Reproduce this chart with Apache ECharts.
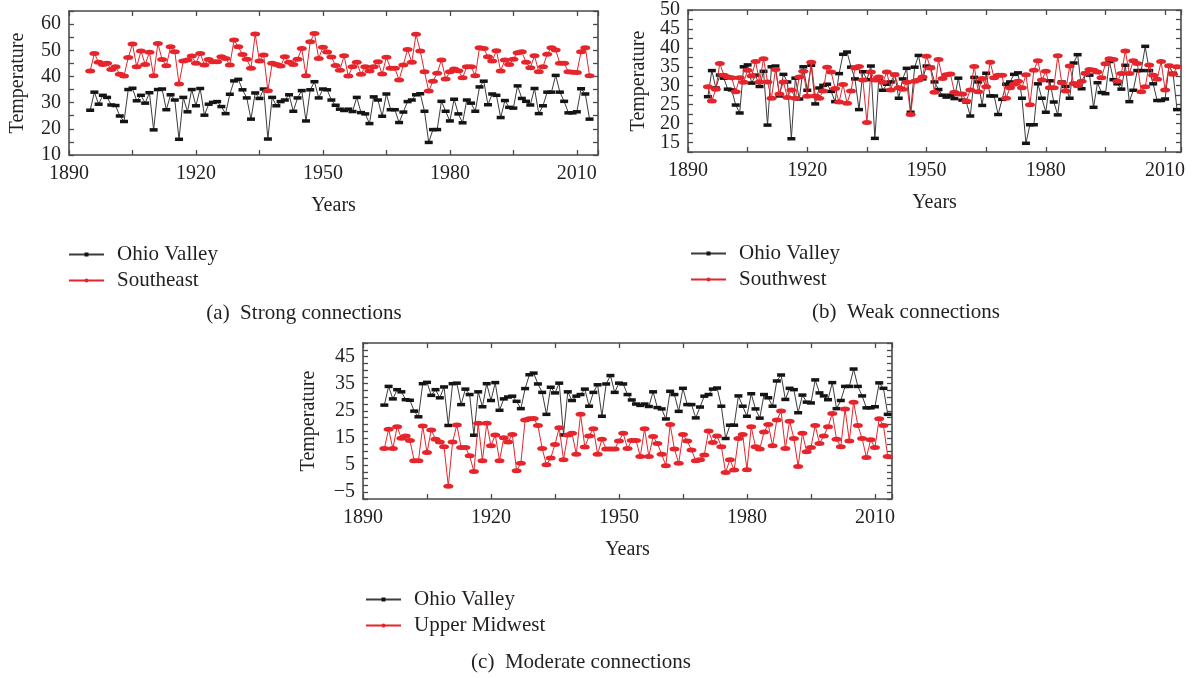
<!DOCTYPE html>
<html>
<head>
<meta charset="utf-8">
<script src="https://cdn.jsdelivr.net/npm/echarts@6/dist/echarts.min.js"></script>
<style>
  html, body { margin: 0; padding: 0; background: #ffffff; }
  #chart { width: 1194px; height: 678px; }
</style>
</head>
<body>
<div id="chart"></div>
<script>
// Winter mean temperature by climate region, 1895-2013
const firstYear = 1895;
const lastYear = 2013;

const ohioValley = [
  27.1, 34.0, 29.4, 32.8, 32.0, 29.1, 28.9, 24.9, 22.8, 35.0,
  35.5, 30.7, 32.8, 29.8, 33.8, 19.6, 35.0, 35.2, 27.3, 33.0,
  31.0, 16.0, 32.0, 26.5, 35.0, 28.8, 35.4, 25.2, 29.4, 30.1,
  30.4, 28.5, 25.8, 33.2, 38.3, 38.9, 34.9, 31.8, 23.7, 33.7,
  31.6, 35.2, 16.1, 32.0, 28.8, 30.4, 31.0, 33.0, 26.7, 31.8,
  34.6, 23.0, 34.9, 38.0, 31.8, 35.2, 34.9, 31.0, 29.0, 27.5,
  27.0, 27.5, 26.6, 32.0, 26.2, 25.7, 22.0, 32.2, 31.0, 24.8,
  33.3, 27.3, 27.3, 22.4, 26.4, 30.4, 31.0, 33.0, 33.4, 26.7,
  14.8, 19.7, 19.7, 30.5, 26.7, 23.0, 31.3, 25.7, 22.3, 31.0,
  29.8, 26.7, 36.0, 38.2, 29.2, 33.3, 32.8, 24.3, 30.8, 28.2,
  27.9, 36.4, 31.6, 30.5, 29.1, 35.4, 25.8, 28.8, 34.0, 34.0,
  40.4, 34.0, 30.5, 26.1, 26.1, 26.5, 35.3, 33.3, 23.7
];

const southeast = [
  42.1, 48.8, 45.4, 44.6, 45.0, 42.7, 43.7, 40.8, 40.2, 47.2,
  52.4, 43.7, 49.7, 44.6, 49.2, 40.3, 52.6, 46.5, 44.1, 51.3,
  49.4, 37.1, 45.9, 46.3, 47.8, 45.0, 48.8, 44.4, 46.5, 45.6,
  45.6, 47.5, 46.9, 44.4, 53.9, 51.3, 48.4, 46.6, 43.1, 56.2,
  45.9, 48.2, 34.5, 45.0, 44.6, 44.0, 47.5, 45.4, 44.6, 46.6,
  50.7, 40.3, 53.3, 56.4, 46.9, 51.2, 49.3, 47.4, 44.2, 42.4,
  47.9, 40.2, 43.7, 45.4, 40.8, 43.7, 42.1, 43.7, 45.6, 40.9,
  47.3, 43.1, 43.1, 38.6, 44.4, 50.3, 45.4, 56.1, 49.7, 41.8,
  34.4, 38.2, 41.2, 46.3, 39.0, 41.8, 42.8, 42.2, 39.5, 43.7,
  43.7, 40.3, 51.0, 50.7, 47.5, 45.9, 49.8, 42.1, 46.3, 44.6,
  46.6, 49.1, 49.4, 45.4, 43.3, 47.9, 41.8, 43.7, 48.5, 51.0,
  50.1, 45.0, 45.0, 41.8, 41.6, 41.5, 49.4, 51.0, 40.3
];

const southwest = [
  29.7, 26.0, 29.1, 35.9, 32.8, 32.3, 32.1, 28.4, 32.1, 30.9,
  34.1, 32.6, 36.4, 31.0, 37.1, 31.0, 26.7, 34.3, 27.8, 31.0,
  26.9, 28.9, 26.7, 32.3, 33.8, 27.2, 36.2, 27.3, 26.7, 28.6,
  34.9, 33.6, 29.3, 25.7, 30.3, 25.4, 28.6, 34.7, 35.1, 31.5,
  20.3, 33.6, 31.5, 32.3, 30.9, 33.6, 28.9, 32.9, 29.5, 29.1,
  30.9, 22.4, 31.2, 31.5, 32.3, 37.8, 34.7, 28.3, 36.9, 31.9,
  32.9, 33.1, 28.3, 27.8, 27.8, 26.0, 28.9, 35.1, 28.4, 31.9,
  29.7, 36.2, 32.1, 32.8, 32.8, 26.7, 29.5, 30.4, 31.2, 29.5,
  32.9, 25.0, 34.1, 36.6, 31.5, 33.8, 29.5, 29.5, 37.9, 30.8,
  28.6, 35.2, 30.6, 30.0, 31.2, 33.2, 34.3, 34.1, 33.6, 32.1,
  35.8, 37.1, 36.9, 31.2, 33.2, 39.2, 33.2, 36.6, 35.9, 28.4,
  29.7, 35.5, 32.8, 31.7, 36.4, 28.9, 35.3, 33.0, 35.0
];

const upperMidwest = [
  11.1, 18.2, 11.1, 19.1, 14.9, 15.7, 14.1, 6.6, 6.6, 19.4,
  9.6, 17.9, 14.5, 13.5, 11.8, -2.8, 13.5, 19.8, 11.5, 11.5,
  8.4, 2.6, 20.4, 6.6, 20.4, 12.1, 16.1, 6.6, 15.1, 13.5,
  16.3, 2.9, 5.7, 21.6, 22.1, 22.2, 19.6, 11.1, 5.1, 7.6,
  12.6, 18.8, 7.0, 16.1, 16.7, 9.0, 23.7, 11.7, 15.7, 18.4,
  9.0, 14.5, 10.9, 10.9, 10.9, 13.9, 16.7, 11.1, 14.1, 14.1,
  8.2, 18.4, 8.2, 15.5, 13.0, 9.0, 4.8, 20.0, 10.9, 5.7,
  16.3, 13.9, 10.6, 6.6, 7.0, 8.7, 17.6, 13.3, 15.7, 11.8,
  2.3, 7.0, 3.2, 14.8, 16.3, 3.3, 19.1, 11.8, 10.9, 17.2,
  20.0, 12.1, 21.6, 24.9, 11.1, 21.2, 14.8, 4.5, 16.7, 9.9,
  11.5, 19.6, 13.0, 15.7, 19.1, 24.0, 14.5, 11.8, 25.7, 13.9,
  28.2, 19.6, 14.8, 7.8, 14.3, 11.5, 22.1, 19.6, 8.2
];

const years = [];
for (let y = firstYear; y <= lastYear; y++) years.push(y);

const yearLabels = [1890, 1920, 1950, 1980, 2010];
const captions = ['(a)  Strong connections', '(b)  Weak connections', '(c)  Moderate connections'];

const FONT = '"Liberation Serif", "DejaVu Serif", serif';
const TEXT = '#231f20';
const AXIS = '#4a4a4a';
const BLACK_LINE = '#3c3c3c';
const BLACK_MARK = '#141414';
const RED = '#e6242b';

const pairs = vals => vals.map((v, i) => [years[i], v]);

const panels = [
  { grid: { left: 69, top: 11, width: 529, height: 144 }, xMax: 2015,
    yMin: 10, yMax: 65, yStep: 5, yLabel: v => (v % 10 === 0 ? String(v) : ''),
    yNameGap: 41,
    other: southeast, otherName: 'Southeast',
    legend: { left: 63, top: 239 }, caption: { x: 304, y: 313 } },
  { grid: { left: 688, top: 7, width: 493, height: 145 }, xMax: 2014,
    yMin: 12.5, yMax: 50, yStep: 2.5, yLabel: v => (v % 5 === 0 ? String(v) : ''),
    yNameGap: 39,
    other: southwest, otherName: 'Southwest',
    legend: { left: 685, top: 238 }, caption: { x: 906, y: 312 } },
  { grid: { left: 363, top: 343, width: 529, height: 156 }, xMax: 2014,
    yMin: -7.5, yMax: 50, yStep: 2.5,
    yLabel: v => ((((v + 5) % 10) + 10) % 10 === 0 ? (v < 0 ? '\u2212' + (-v) : String(v)) : ''),
    yNameGap: 44,
    other: upperMidwest, otherName: 'Upper Midwest',
    legend: { left: 360, top: 584 }, caption: { x: 581, y: 662 } }
];

const tickStyle = { fontFamily: FONT, fontSize: 20, color: TEXT };
const nameStyle = { fontFamily: FONT, fontSize: 20, color: TEXT };
const legendStyle = { fontFamily: FONT, fontSize: 21, color: TEXT };
const tick = { inside: true, length: 5, lineStyle: { color: AXIS, width: 1.3 } };
const line = { show: true, onZero: false, lineStyle: { color: AXIS, width: 1.6 } };

const grids = [], xAxes = [], yAxes = [], series = [], legends = [], graphics = [];

panels.forEach((p, k) => {
  grids.push(Object.assign({ containLabel: false }, p.grid));
  // bottom + mirrored top x axis
  xAxes.push({
    type: 'value', gridIndex: k, position: 'bottom', min: 1890, max: p.xMax, interval: 15,
    axisLine: line, axisTick: tick, splitLine: { show: false },
    axisLabel: Object.assign({ margin: 9, showMaxLabel: true,
      formatter: v => (yearLabels.indexOf(v) >= 0 ? String(v) : '') }, tickStyle),
    name: 'Years', nameLocation: 'middle', nameGap: 41, nameTextStyle: nameStyle
  });
  xAxes.push({
    type: 'value', gridIndex: k, position: 'top', min: 1890, max: p.xMax, interval: 15,
    axisLine: line, axisTick: tick, axisLabel: { show: false }, splitLine: { show: false }
  });
  // left + mirrored right y axis
  yAxes.push({
    type: 'value', gridIndex: k, position: 'left', min: p.yMin, max: p.yMax, interval: p.yStep,
    axisLine: line, axisTick: tick, splitLine: { show: false },
    axisLabel: Object.assign({ margin: 8, formatter: p.yLabel }, tickStyle),
    name: 'Temperature', nameLocation: 'middle', nameRotate: 90, nameGap: p.yNameGap,
    nameTextStyle: nameStyle
  });
  yAxes.push({
    type: 'value', gridIndex: k, position: 'right', min: p.yMin, max: p.yMax, interval: p.yStep,
    axisLine: line, axisTick: tick, axisLabel: { show: false }, splitLine: { show: false }
  });

  series.push({
    name: 'Ohio Valley', type: 'line', xAxisIndex: 2 * k, yAxisIndex: 2 * k,
    data: pairs(ohioValley), symbol: 'rect', symbolSize: [8, 3.5], showAllSymbol: true,
    lineStyle: { color: BLACK_LINE, width: 1 }, itemStyle: { color: BLACK_MARK },
    color: BLACK_MARK, z: 2
  });
  series.push({
    name: p.otherName, type: 'line', xAxisIndex: 2 * k, yAxisIndex: 2 * k,
    data: pairs(p.other), symbol: 'circle', symbolSize: [10, 5], showAllSymbol: true,
    lineStyle: { color: RED, width: 1 }, itemStyle: { color: RED },
    color: RED, z: 3
  });

  legends.push({
    orient: 'vertical', left: p.legend.left, top: p.legend.top,
    data: ['Ohio Valley', p.otherName], itemWidth: 35, itemHeight: 5, itemGap: 5,
    selectedMode: false,
    textStyle: Object.assign({ padding: [0, 0, 0, 8] }, legendStyle)
  });

  graphics.push({
    type: 'text', x: p.caption.x, y: p.caption.y,
    style: { text: captions[k], font: '21px ' + FONT, fill: TEXT,
             textAlign: 'center', textVerticalAlign: 'middle', verticalAlign: 'middle' }
  });
});

const chart = echarts.init(document.getElementById('chart'), null, { renderer: 'canvas' });
chart.setOption({
  animation: false,
  backgroundColor: '#ffffff',
  grid: grids,
  xAxis: xAxes,
  yAxis: yAxes,
  legend: legends,
  series: series,
  graphic: graphics
});
</script>
</body>
</html>
